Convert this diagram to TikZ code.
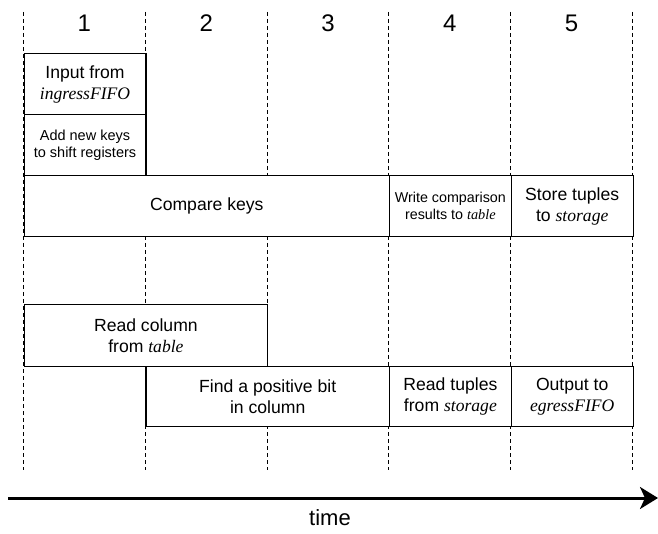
\documentclass[tikz,border=0pt]{standalone}
\usepackage{fontspec}
\setmainfont{Liberation Sans}
\newfontfamily\tmsfont{Liberation Serif}
\newcommand\tmit[1]{{\tmsfont\itshape #1}}
\usetikzlibrary{arrows.meta}
\begin{document}
\begin{tikzpicture}[x=1pt,y=-1pt,
  grid/.style={line width=0.9pt,dash pattern=on 4pt off 3pt},
  stagebox/.style={draw,line width=1.2pt,fill=white,inner sep=0pt,align=center,anchor=north west},
  big/.style={font=\fontsize{17.6}{21}\selectfont},
  mid/.style={font=\fontsize{14.5}{17}\selectfont},
  small/.style={font=\fontsize{14.3}{17}\selectfont},
  num/.style={font=\fontsize{24}{26}\selectfont}]
\useasboundingbox (0,0) rectangle (658,534);
% grid lines
\foreach \i/\x in {0/23.5,1/145.3,2/267.1,3/388.9,4/510.7,5/632.5}{
  \coordinate (gt\i) at (\x,12);
  \coordinate (gb\i) at (\x,470);
  \draw[grid] (gt\i) -- (gb\i);
}
% cycle numbers
\foreach \i/\x in {1/84.4,2/206.2,3/328,4/449.8,5/571.6}{
  \node[num] (n\i) at (\x,23) {\i};
}
% stages
\node[stagebox,big,minimum width=121.8pt,minimum height=61pt] (inp) at (23.5,53) {Input from\\\tmit{ingressFIFO}};
\node[stagebox,mid,minimum width=121.8pt,minimum height=61pt] (add) at (23.5,114) {Add new keys\\to shift registers};
\node[stagebox,big,minimum width=365.4pt,minimum height=61pt] (cmp) at (23.5,175) {Compare keys};
\node[stagebox,small,minimum width=121.8pt,minimum height=61pt] (wr) at (388.9,175) {Write comparison\\results to \tmit{table}};
\node[stagebox,big,minimum width=121.8pt,minimum height=61pt] (st) at (510.7,175) {Store tuples\\to \tmit{storage}};
\node[stagebox,big,minimum width=243.6pt,minimum height=62pt] (rc) at (23.5,304) {Read column\\from \tmit{table}};
\node[stagebox,big,minimum width=243.6pt,minimum height=60pt] (fb) at (145.3,366) {Find a positive bit\\in column};
\node[stagebox,big,minimum width=121.8pt,minimum height=60pt] (rt) at (388.9,366) {Read tuples\\from \tmit{storage}};
\node[stagebox,big,minimum width=121.8pt,minimum height=60pt] (out) at (510.7,366) {Output to\\\tmit{egressFIFO}};
% time axis
\coordinate (ts) at (8,498);
\coordinate (te) at (658,498);
\draw[line width=3pt,-{Stealth[length=18pt,width=22pt,inset=5pt]}] (ts) -- (te);
\node[font=\fontsize{22}{24}\selectfont] (tlab) at (330,518) {time};
\end{tikzpicture}
\end{document}
